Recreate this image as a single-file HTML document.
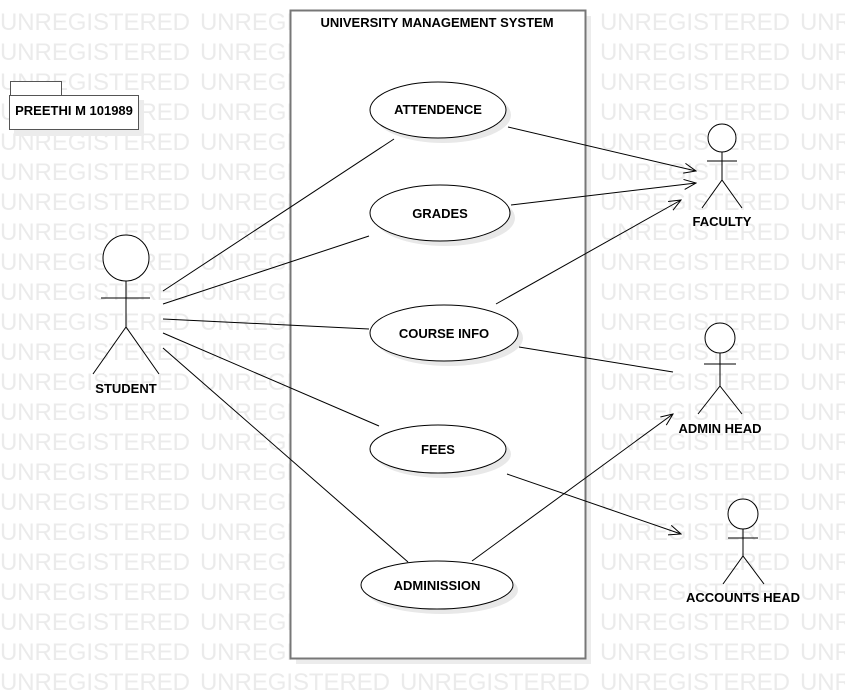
<!DOCTYPE html>
<html><head><style>body{margin:0;background:#fff}svg{display:block}</style></head><body>
<svg width="845" height="698" xmlns="http://www.w3.org/2000/svg" font-family="Liberation Sans, sans-serif">
<defs>
<marker id="a" markerWidth="14" markerHeight="12" refX="13" refY="6" orient="auto" markerUnits="userSpaceOnUse"><path d="M1,1 L13,6 L1,11" fill="none" stroke="#000" stroke-width="1"/></marker>
<g id="r" fill="#ebebeb" font-size="24">
<text x="0" y="0" textLength="190">UNREGISTERED</text>
<text x="200" y="0" textLength="190">UNREGISTERED</text>
<text x="400" y="0" textLength="190">UNREGISTERED</text>
<text x="600" y="0" textLength="190">UNREGISTERED</text>
<text x="800" y="0" textLength="190">UNREGISTERED</text>
</g>
</defs>
<use href="#r" y="30"/><use href="#r" y="60"/><use href="#r" y="90"/><use href="#r" y="120"/>
<use href="#r" y="150"/><use href="#r" y="180"/><use href="#r" y="210"/><use href="#r" y="240"/>
<use href="#r" y="270"/><use href="#r" y="300"/><use href="#r" y="330"/><use href="#r" y="360"/>
<use href="#r" y="390"/><use href="#r" y="420"/><use href="#r" y="450"/><use href="#r" y="480"/>
<use href="#r" y="510"/><use href="#r" y="540"/><use href="#r" y="570"/><use href="#r" y="600"/>
<use href="#r" y="630"/><use href="#r" y="660"/><use href="#r" y="690"/>
<!-- system box -->
<rect x="296" y="16" width="295" height="648" fill="#ececec"/>
<rect x="290.5" y="10.5" width="295" height="648" fill="#fff" stroke="#777" stroke-width="2"/>
<text x="437" y="27" font-size="13" font-weight="bold" text-anchor="middle">UNIVERSITY MANAGEMENT SYSTEM</text>
<!-- package -->
<rect x="14" y="100" width="130" height="36" fill="#ececec"/>
<rect x="10.5" y="81.5" width="51" height="14" fill="#fff" stroke="#555"/>
<rect x="9.5" y="95.5" width="129" height="34" fill="#fff" stroke="#555"/>
<text x="74" y="115" font-size="13" font-weight="bold" text-anchor="middle">PREETHI M 101989</text>
<!-- ellipses -->
<g fill="#e8e8e8">
<ellipse cx="443" cy="115" rx="68" ry="28"/>
<ellipse cx="445" cy="218" rx="70" ry="28"/>
<ellipse cx="449" cy="338" rx="74" ry="28"/>
<ellipse cx="443" cy="454" rx="68" ry="24"/>
<ellipse cx="442" cy="590" rx="76" ry="24"/>
</g>
<g fill="#fff" stroke="#000">
<ellipse cx="438" cy="110" rx="68" ry="28"/>
<ellipse cx="440" cy="213" rx="70" ry="28"/>
<ellipse cx="444" cy="333" rx="74" ry="28"/>
<ellipse cx="438" cy="449" rx="68" ry="24"/>
<ellipse cx="437" cy="585" rx="76" ry="24"/>
</g>
<g font-size="13" font-weight="bold" text-anchor="middle">
<text x="438" y="114">ATTENDENCE</text>
<text x="440" y="218">GRADES</text>
<text x="444" y="338">COURSE INFO</text>
<text x="438" y="454">FEES</text>
<text x="437" y="590">ADMINISSION</text>
</g>
<!-- lines -->
<g stroke="#000" stroke-width="1" fill="none">
<line x1="163" y1="291" x2="394" y2="139"/>
<line x1="163" y1="304" x2="369" y2="236"/>
<line x1="163" y1="319" x2="369" y2="329"/>
<line x1="163" y1="333" x2="379" y2="426"/>
<line x1="163" y1="348" x2="408" y2="562"/>
<line x1="508" y1="127" x2="696" y2="171" marker-end="url(#a)"/>
<line x1="511" y1="205" x2="696" y2="183" marker-end="url(#a)"/>
<line x1="496" y1="304" x2="681" y2="200" marker-end="url(#a)"/>
<line x1="519" y1="347" x2="673" y2="372"/>
<line x1="472" y1="561" x2="673" y2="414" marker-end="url(#a)"/>
<line x1="507" y1="474" x2="681" y2="534" marker-end="url(#a)"/>
</g>
<!-- actors -->
<g stroke="#000" fill="#fff" stroke-width="1">
<circle cx="126" cy="258" r="23"/>
<path d="M101 298H150M126 281V327M93 374L126 327L159 374" fill="none"/>
<circle cx="722" cy="138" r="14"/>
<path d="M707 161H737M722 152V180M702 208L722 180L742 208" fill="none"/>
<circle cx="720" cy="338" r="15"/>
<path d="M704 364H736M720 353V386M698 414L720 386L742 414" fill="none"/>
<circle cx="743" cy="514" r="15"/>
<path d="M728 538H758M743 529V556M723 584L743 556L764 584" fill="none"/>
</g>
<g font-size="13" font-weight="bold" text-anchor="middle">
<text x="126" y="393">STUDENT</text>
<text x="722" y="226">FACULTY</text>
<text x="720" y="433">ADMIN HEAD</text>
<text x="743" y="602">ACCOUNTS HEAD</text>
</g>
</svg>
</body></html>
